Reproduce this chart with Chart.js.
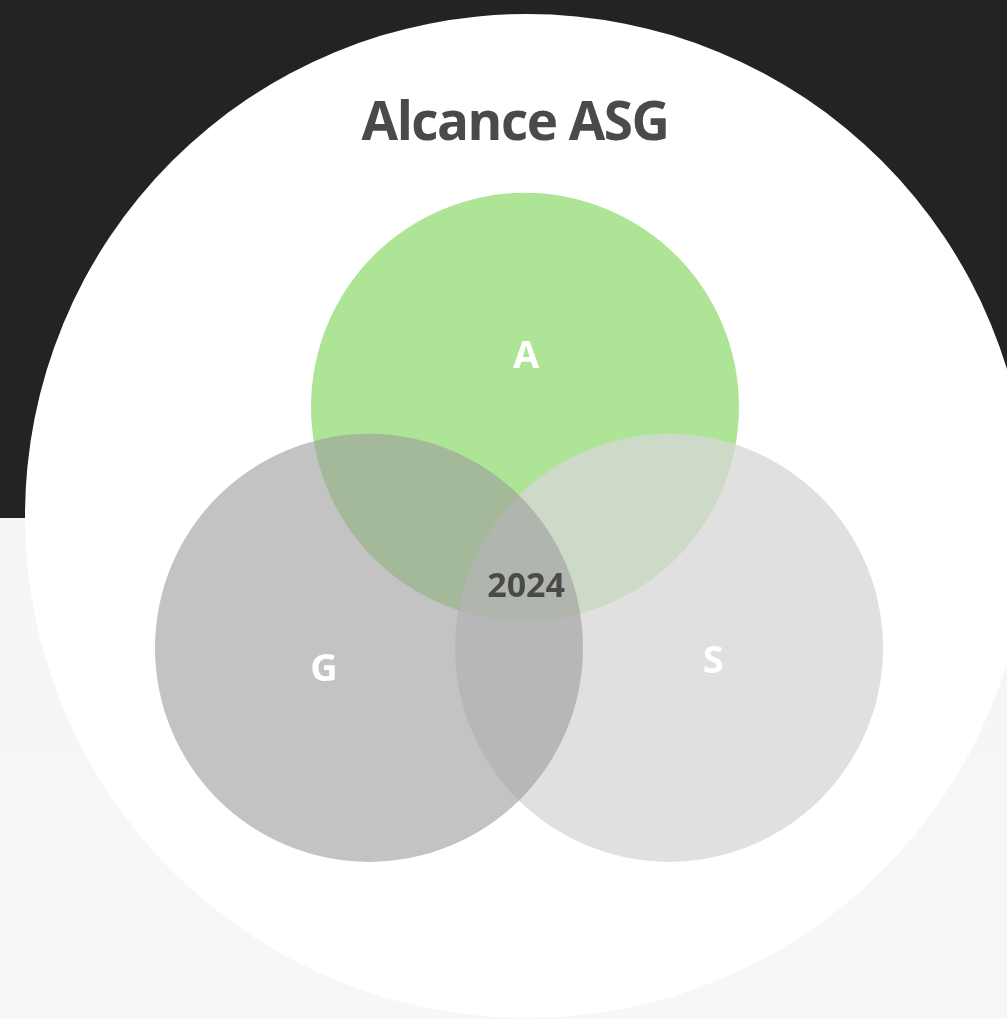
<!DOCTYPE html>
<html>
<head>
<meta charset="utf-8">
<script src="https://cdn.jsdelivr.net/npm/chart.js@4"></script>
<style>
  html, body {
    margin: 0;
    padding: 0;
    width: 1007px;
    height: 1019px;
    overflow: hidden;
    background: linear-gradient(#232323 0, #232323 518px, #f5f5f5 518px, #f7f7f7 100%);
  }
  .disc {
    position: absolute;
    left: 25px;
    top: 14px;
    width: 1004px;
    height: 1004px;
    border-radius: 50%;
    background: #ffffff;
  }
  #myChart {
    position: absolute;
    left: 0;
    top: 0;
  }
</style>
</head>
<body>
<div class="disc"></div>
<canvas id="myChart" width="1007" height="1019"></canvas>
<script>
// sets, drawn in this order (G ends up on top)
let setNames = ["A", "S", "G"];
let setX = [0, 0.673, -0.729];
let setY = [0, -1.126, -1.126];
let setSize = [1, 1, 1];
let setColors = ["#ade495", "rgba(215,215,215,0.77)", "rgba(157,157,157,0.613)"];

// text placed on the diagram
let labelText = ["A", "G", "S", "2024"];
let labelX = [0.005, -0.939, 0.879, 0.005];
let labelY = [0.233, -1.229, -1.191, -0.845];
let labelColors = ["#ffffff", "#ffffff", "#ffffff", "#4a4a4a"];
let labelSizes = [38, 38, 38, 34];

let vennData = [];
for (let i = 0; i < setNames.length; i++) {
    vennData.push({x: setX[i], y: setY[i]});
}

// set size in data units -> pixels, via the x scale
function unitPx(chart) {
    let xs = chart.scales.x;
    return Math.abs(xs.getPixelForValue(1) - xs.getPixelForValue(0));
}

let vennLabels = {
    id: "vennLabels",
    beforeDraw(chart) {
        chart.ctx.letterSpacing = "-1.5px";   // title is set a bit tight
    },
    beforeDatasetsDraw(chart) {
        chart.ctx.letterSpacing = "0px";
    },
    afterDatasetsDraw(chart) {
        let ctx = chart.ctx;
        ctx.save();
        ctx.textAlign = "center";
        ctx.textBaseline = "middle";
        for (let i = 0; i < labelText.length; i++) {
            ctx.font = "bold " + labelSizes[i] + "px 'Open Sans'";
            ctx.fillStyle = labelColors[i];
            ctx.fillText(labelText[i],
                chart.scales.x.getPixelForValue(labelX[i]),
                chart.scales.y.getPixelForValue(labelY[i]));
        }
        ctx.restore();
    }
};

let myChart = document.getElementById('myChart').getContext('2d');

var vennChart = new Chart(myChart, {
    type: "scatter",
    data: {
        labels: setNames,
        datasets: [{
            data: vennData,
            pointBackgroundColor: setColors,
            pointBorderWidth: 0,
            clip: false,
            pointRadius: function(c) {
                return unitPx(c.chart) * setSize[c.dataIndex];
            }
        }]
    },
    options: {
        responsive: false,
        animation: false,
        events: [],
        layout: {padding: {left: 23}},
        plugins: {
            legend: {display: false},
            tooltip: {enabled: false},
            title: {
                display: true,
                text: "Alcance ASG",
                color: "#4a4a4a",
                font: {family: "'Open Sans'", size: 53, weight: "bold", lineHeight: 1.2},
                padding: {top: 93, bottom: 43.2}
            }
        },
        scales: {
            x: {display: false, min: -2.3458, max: 2.2523},
            y: {display: false, min: -2.8598, max: 0.9673}
        }
    },
    plugins: [vennLabels]
});
</script>
</body>
</html>
